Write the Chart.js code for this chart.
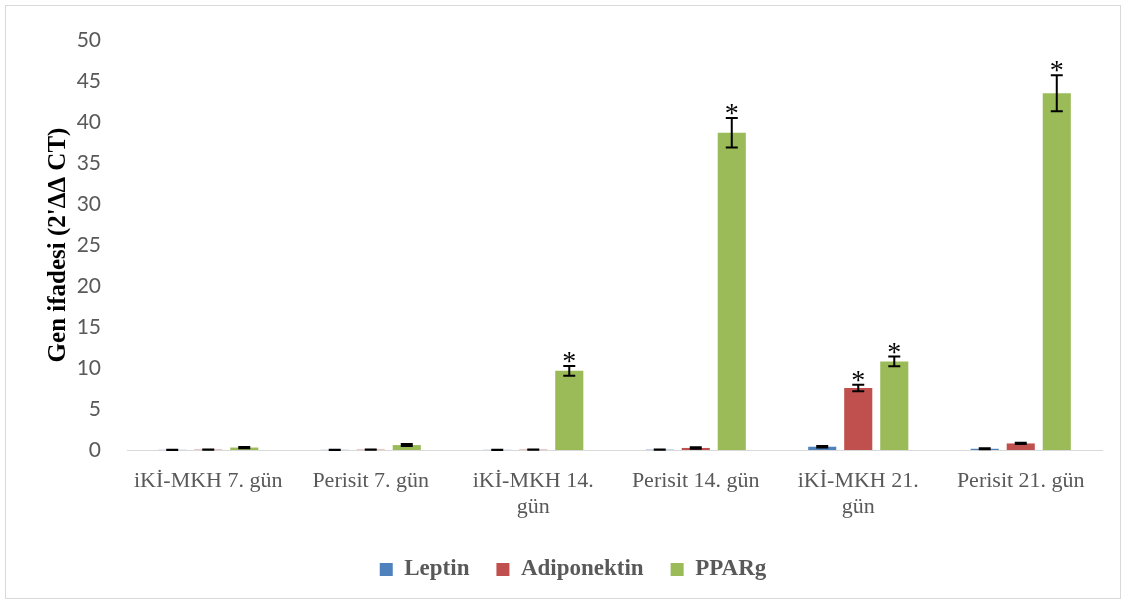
<!DOCTYPE html>
<html>
<head>
<meta charset="utf-8">
<script src="https://cdn.jsdelivr.net/npm/chart.js@4/dist/chart.umd.min.js"></script>
<style>
html,body{margin:0;padding:0;background:#fff;}
#wrap{position:relative;width:1129px;height:606px;}
#frame{position:absolute;left:5px;top:5px;width:1116px;height:594px;border:1px solid #d9d9d9;box-sizing:border-box;pointer-events:none;}
canvas{position:absolute;left:0;top:0;}
</style>
</head>
<body>
<div id="wrap">
<canvas id="c" width="1129" height="606"></canvas>
<div id="frame"></div>
</div>
<script>
const categories = ['iKİ-MKH 7. gün', 'Perisit 7. gün', ['iKİ-MKH 14.', 'gün'], 'Perisit 14. gün', ['iKİ-MKH 21.', 'gün'], 'Perisit 21. gün'];
const leptin = [0.02, 0.02, 0.02, 0.04, 0.4, 0.15];
const adiponektin = [0.04, 0.04, 0.04, 0.25, 7.55, 0.8];
const pparg = [0.3, 0.6, 9.65, 38.7, 10.8, 43.5];
const leptinErr = [0.02, 0.02, 0.02, 0.02, 0.08, 0.05];
const adiponektinErr = [0.02, 0.02, 0.02, 0.1, 0.4, 0.08];
const ppargErr = [0.08, 0.12, 0.6, 1.8, 0.6, 2.2];
const leptinStar = [false, false, false, false, false, false];
const adiponektinStar = [false, false, false, false, true, false];
const ppargStar = [false, false, true, true, true, true];
const yTicks = [0, 5, 10, 15, 20, 25, 30, 35, 40, 45, 50];

const errorBarPlugin = {
  id: 'errorBars',
  afterDatasetsDraw(chart) {
    const ctx = chart.ctx;
    const y = chart.scales.y;
    chart.data.datasets.forEach((ds, di) => {
      const meta = chart.getDatasetMeta(di);
      meta.data.forEach((el, i) => {
        const v = ds.data[i], e = ds.errors[i];
        const yt = y.getPixelForValue(v + e);
        const yb = y.getPixelForValue(Math.max(0, v - e));
        ctx.save();
        ctx.strokeStyle = '#000';
        ctx.lineWidth = 2;
        ctx.beginPath();
        ctx.moveTo(el.x, yt); ctx.lineTo(el.x, yb);
        ctx.moveTo(el.x - 6, yt); ctx.lineTo(el.x + 6, yt);
        ctx.moveTo(el.x - 6, yb); ctx.lineTo(el.x + 6, yb);
        ctx.stroke();
        if (ds.stars[i]) {
          ctx.fillStyle = '#000';
          ctx.font = '28px "Liberation Serif"';
          ctx.textAlign = 'center';
          ctx.textBaseline = 'alphabetic';
          const m = ctx.measureText('*');
          ctx.fillText('*', el.x, yt - 3 - m.actualBoundingBoxDescent);
        }
        ctx.restore();
      });
    });
  }
};

new Chart(document.getElementById('c'), {
  type: 'bar',
  data: {
    labels: categories,
    datasets: [
      {label: 'Leptin', data: leptin, errors: leptinErr, stars: leptinStar, backgroundColor: '#4F81BD'},
      {label: 'Adiponektin', data: adiponektin, errors: adiponektinErr, stars: adiponektinStar, backgroundColor: '#C0504D'},
      {label: 'PPARg', data: pparg, errors: ppargErr, stars: ppargStar, backgroundColor: '#9BBB59'}
    ]
  },
  options: {
    responsive: false,
    animation: false,
    devicePixelRatio: 1,
    datasets: {bar: {categoryPercentage: 0.665, barPercentage: 0.78}},
    layout: {padding: {left: 44, right: 27, top: 40, bottom: 15}},
    plugins: {
      legend: {
        position: 'bottom',
        labels: {
          boxWidth: 13, boxHeight: 13, padding: 27,
          color: '#595959',
          font: {family: '"Liberation Serif"', size: 23, weight: 'bold'}
        }
      },
      tooltip: {enabled: false}
    },
    scales: {
      x: {
        afterFit(s) { s.height = 81; },
        grid: {display: false},
        border: {display: true, color: '#d9d9d9', width: 1},
        ticks: {color: '#595959', font: {family: '"Liberation Serif"', size: 22}, maxRotation: 0, autoSkip: false, padding: 10}
      },
      y: {
        min: 0, max: 50,
        afterBuildTicks(s) { s.ticks = yTicks.map(v => ({value: v})); },
        afterFit(s) { s.width = 83; },
        grid: {display: false},
        border: {display: false},
        ticks: {color: '#595959', font: {family: 'Lato', size: 21}, padding: 18},
        title: {display: true, text: "Gen ifadesi (2'ΔΔ CT)", color: '#000', font: {family: '"Liberation Serif"', size: 25, weight: 'bold'}, padding: 0}
      }
    }
  },
  plugins: [errorBarPlugin]
});
</script>
</body>
</html>
